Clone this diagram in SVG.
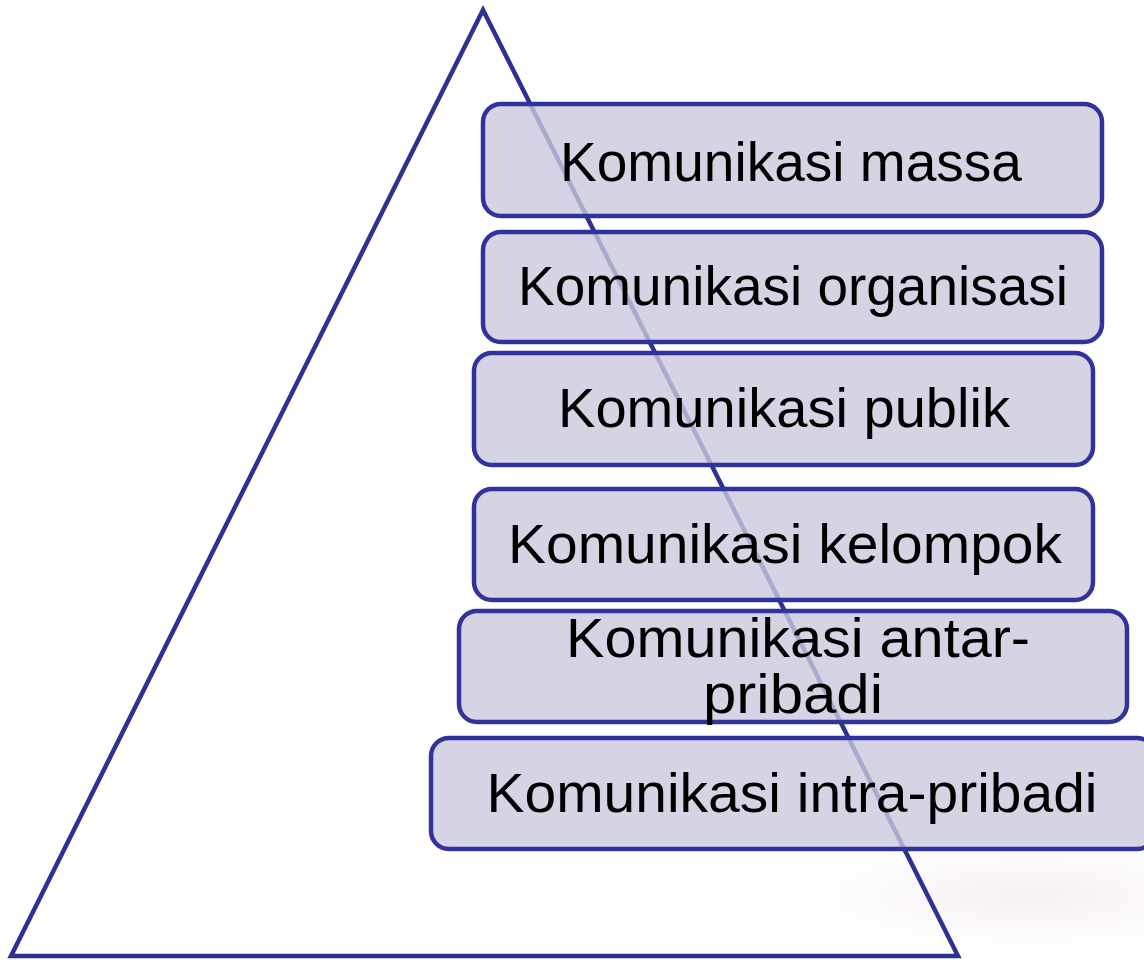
<svg xmlns="http://www.w3.org/2000/svg" width="1144" height="960" viewBox="0 0 1144 960">
  <defs>
    <radialGradient id="haze" cx="0.5" cy="0.5" r="0.5">
      <stop offset="0" stop-color="#f4ebf2" stop-opacity="0.8"/>
      <stop offset="1" stop-color="#f4ebf2" stop-opacity="0"/>
    </radialGradient>
    <style>
      .box { fill: rgb(201,201,221); fill-opacity: 0.8; stroke: #31339a; stroke-width: 4.5; }
      .lbl { font-family: "Liberation Sans", Arial, sans-serif; font-size: 55px; fill: #000000; text-anchor: middle; }
      .tri { fill: none; stroke: #2e3192; stroke-width: 4.5; stroke-linejoin: miter; }
    </style>
  </defs>
  <rect x="0" y="0" width="1144" height="960" fill="#ffffff"/>
  <ellipse cx="1030" cy="895" rx="230" ry="55" fill="url(#haze)"/>

  <g id="connectors">
    <polygon id="pyramid" class="tri" points="483,10 11,956 958,956"/>
  </g>

  <g id="node-massa">
    <rect class="box" x="483" y="104" width="619" height="112" rx="18"/>
    <text class="lbl" x="791" y="181" textLength="462" lengthAdjust="spacingAndGlyphs">Komunikasi massa</text>
  </g>
  <g id="node-organisasi">
    <rect class="box" x="483" y="232" width="619" height="110" rx="18"/>
    <text class="lbl" x="793" y="305" textLength="550" lengthAdjust="spacingAndGlyphs">Komunikasi organisasi</text>
  </g>
  <g id="node-publik">
    <rect class="box" x="474" y="353" width="619" height="112" rx="18"/>
    <text class="lbl" x="784" y="427" textLength="452" lengthAdjust="spacingAndGlyphs">Komunikasi publik</text>
  </g>
  <g id="node-kelompok">
    <rect class="box" x="474" y="489" width="619" height="111" rx="18"/>
    <text class="lbl" x="785" y="563" textLength="554" lengthAdjust="spacingAndGlyphs">Komunikasi kelompok</text>
  </g>
  <g id="node-antarpribadi">
    <rect class="box" x="459" y="611" width="668" height="111" rx="18"/>
    <text class="lbl" x="798" y="657" textLength="464" lengthAdjust="spacingAndGlyphs">Komunikasi antar-</text>
    <text class="lbl" x="793" y="713" textLength="180" lengthAdjust="spacingAndGlyphs">pribadi</text>
  </g>
  <g id="node-intrapribadi">
    <rect class="box" x="431" y="738" width="724" height="111" rx="18"/>
    <text class="lbl" x="792" y="812" textLength="611" lengthAdjust="spacingAndGlyphs">Komunikasi intra-pribadi</text>
  </g>
</svg>
